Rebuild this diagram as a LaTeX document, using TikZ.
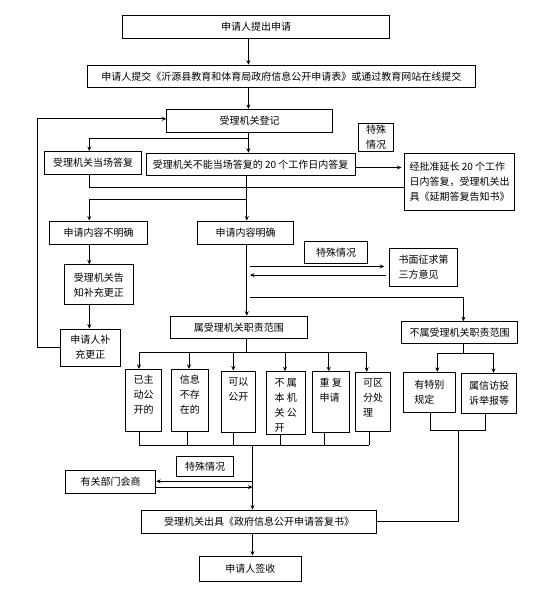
\documentclass[tikz,border=0pt]{standalone}
\usepackage{fontspec}
\setmainfont{Noto Sans CJK SC}
\usetikzlibrary{arrows.meta}
\newcommand{\fs}{\fontsize{10}{15}\selectfont}
\newcommand{\tc}[3]{\parbox[c][#2pt][t]{#1pt}{\centering\vspace*{4pt}\begin{tabular}[t]{@{}l@{}}#3\end{tabular}}}
\begin{document}
\begin{tikzpicture}[x=1pt,y=-1pt,
  box/.style={draw, line width=0.9pt, inner sep=0pt, font=\fs, align=center},
  arr/.style={line width=0.8pt, -{Stealth[length=4.5pt,width=4pt]}},
  ln/.style={line width=0.8pt}]
\useasboundingbox[fill=white] (0,0) rectangle (537,597);

% nodes
\node[box, minimum width=267, minimum height=22.6] (b1) at (256.2,27.1) {申请人提出申请};
\node[box, minimum width=388, minimum height=22.6] (b2) at (281.3,76.4) {申请人提交《沂源县教育和体育局政府信息公开申请表》或通过教育网站在线提交};
\node[box, minimum width=165.4, minimum height=23] (b3) at (249.5,120.8) {受理机关登记};
\node[box, minimum width=97, minimum height=22.6] (b4) at (93,162.7) {受理机关当场答复};
\node[box, minimum width=209, minimum height=22.2] (b5) at (250.6,164.2) {受理机关不能当场答复的 20 个工作日内答复};
\node[box, minimum width=34.3, minimum height=28] (s1) at (376,137.3) {特殊\\情况};
\node[box, minimum width=109.6, minimum height=57.2, align=left] (b6) at (459.6,181.7) {经批准延长 20 个工作\\日内答复，受理机关出\\具《延期答复告知书》};
\node[box, minimum width=97.6, minimum height=23.2] (b7) at (98.5,232.6) {申请内容不明确};
\node[box, minimum width=96, minimum height=23.2] (b8) at (245.5,232.6) {申请内容明确};
\node[box, minimum width=68.8, minimum height=40] (b9) at (98.8,284.8) {受理机关告\\知补充更正};
\node[box, minimum width=59.6, minimum height=37] (b10) at (90.4,347.5) {申请人补\\充更正};
\node[box, minimum width=62.7, minimum height=21.6] (s2) at (336.2,252.3) {特殊情况};
\node[box, minimum width=67.5, minimum height=37.6, align=left] (b12) at (423.5,267.2) {书面征求第\\三方意见};
\node[box, minimum width=136.7, minimum height=22.6] (b11) at (238.9,327.5) {属受理机关职责范围};
\node[box, minimum width=115.6, minimum height=21.6] (b13) at (459.5,332.5) {不属受理机关职责范围};

\node[box] (B1) at (143.5,400.2) {\tc{35.6}{61.7}{已主\\动公\\开的}};
\node[box] (B2) at (189.8,400.2) {\tc{37}{61.7}{信息\\不存\\在的}};
\node[box] (B3) at (238.3,401.7) {\tc{34}{61.3}{可以\\公开}};
\node[box] (B4) at (285.7,403) {\tc{38.7}{62.6}{不 属\\本 机\\关 公\\开}};
\node[box] (B5) at (330.8,402) {\tc{37}{60.6}{重 复\\申请}};
\node[box] (B6) at (373,401.8) {\tc{34.6}{59}{可区\\分处\\理}};
\node[box, minimum width=52, minimum height=40, align=left] (B7) at (429.3,392.3) {有特别\\规定};
\node[box, minimum width=54.6, minimum height=39.7, align=left] (B8) at (489,393.2) {属信访投\\诉举报等};

\node[box, minimum width=57.2, minimum height=20.8] (s3) at (205,466.4) {特殊情况};
\node[box, minimum width=90.4, minimum height=22.6] (hg) at (110.6,482) {有关部门会商};
\node[box, minimum width=235.3, minimum height=23] (b14) at (259,521.5) {受理机关出具《政府信息公开申请答复书》};
\node[box, minimum width=102.1, minimum height=25.6] (b15) at (250.4,568.8) {申请人签收};

% helper coordinates
\coordinate (xA) at (248.4,0);
\coordinate (xM) at (246.8,0);
\coordinate (xM2) at (250,0);
\coordinate (xB) at (89.3,0);
\coordinate (xC) at (252.5,0);
\coordinate (x463) at (463.4,0);
\coordinate (j1) at (248.4,138);
\coordinate (j2) at (246.8,199.3);
\coordinate (yb4) at (0,187.3);
\coordinate (y5) at (0,167.5);
\coordinate (cL) at (37.5,118.8);
\coordinate (y266) at (0,266.5);
\coordinate (y275) at (0,275.1);
\coordinate (y297) at (0,297.3);
\coordinate (yb1) at (0,352);
\coordinate (y481) at (0,481.3);
\coordinate (y487) at (0,487.1);

% top connectors
\draw[arr] (b1.south -| xA) -- (b2.north -| xA);
\draw[arr] (b2.south -| xA) -- (b3.north -| xA);
\draw[arr] (b3.south -| xA) -- (b5.north -| xA);
\draw[arr] (j1) -| (b4.north -| xB);
\draw[ln] (b4.south -| xB) |- (b6.west |- yb4);
\draw[arr, shorten >=3pt] (b5.east |- y5) -- (b6.west |- y5);
\draw[arr] (b5.south -| xM) -- (b8.north -| xM);
\draw[arr] (j2) -| (b7.north -| xB);
\draw[arr] (b7.south -| xB) -- (b9.north -| xB);
\draw[arr] (b9.south -| xB) -- (b10.north -| xB);
\draw[arr] (b10.west) -| (cL) -- (cL -| b3.west);

% middle
\draw[arr] (b8.south -| xM) -- (b11.north -| xM);
\draw[arr, shorten >=5pt] (xM2 |- y266) -- (b12.west |- y266);
\draw[arr, shorten <=3pt] (b12.west |- y275) -- (xM2 |- y275);
\draw[arr] (xM2 |- y297) -| (b13.north -| x463);

% bus under b11
\coordinate (u1) at (139,352);
\coordinate (u2) at (189,352);
\coordinate (u3) at (233.3,352);
\coordinate (u4) at (285,352);
\coordinate (u5) at (328.7,352);
\coordinate (u6) at (366.7,352);
\draw[ln] (b11.south -| xM) -- (xM |- yb1);
\draw[ln] (u1) -- (u6);
\foreach \i in {1,...,6} {\draw[arr] (u\i) -- (B\i.north -| u\i);}

% bus under b13
\coordinate (v1) at (437.3,353.3);
\coordinate (v2) at (493.5,353.3);
\draw[ln] (b13.south -| x463) -- (x463 |- v1);
\draw[ln] (v1) -- (v2);
\draw[arr] (v1) -- (B7.north -| v1);
\draw[arr] (v2) -- (B8.north -| v2);

% bottom bus
\coordinate (w1) at (139.3,445);
\coordinate (w2) at (187.7,445);
\coordinate (w3) at (233.3,445);
\coordinate (w4) at (280.7,445);
\coordinate (w5) at (324.7,445);
\coordinate (w6) at (369.3,445);
\foreach \i in {1,...,6} {\draw[ln] (B\i.south -| w\i) -- (w\i);}
\draw[ln] (w1) -- (w6);
\draw[arr] (xC |- w1) -- (b14.north -| xC);
\draw[arr] (xC |- y481) -- (hg.east |- y481);
\draw[arr] (hg.east |- y487) -- (xC |- y487);

% right side to b14
\coordinate (z1) at (430,430.7);
\coordinate (z2) at (485,430.7);
\coordinate (z3) at (458.3,430.7);
\draw[ln] (B7.south -| z1) -- (z1) -- (z2) -- (B8.south -| z2);
\draw[ln] (z3) |- (b14.east);

\draw[arr] (b14.south -| xC) -- (b15.north -| xC);
\end{tikzpicture}
\end{document}
